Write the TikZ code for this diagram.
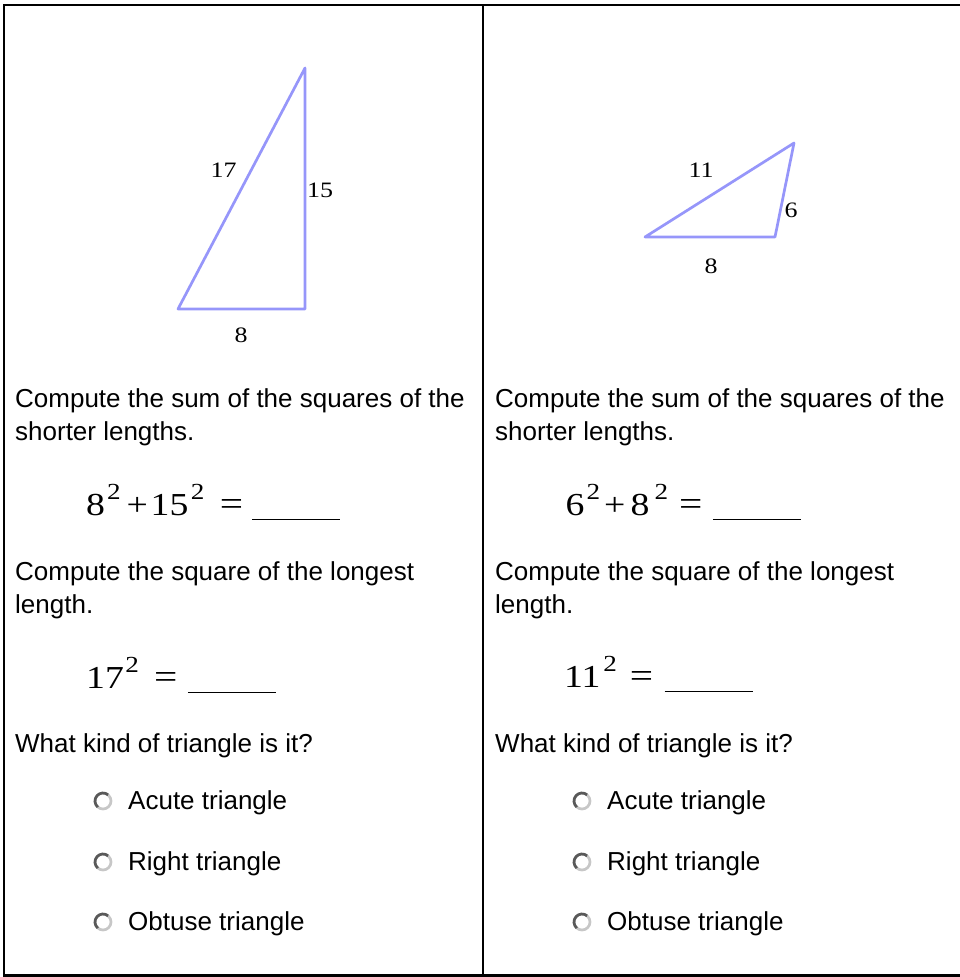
\documentclass[tikz,border=0pt]{standalone}
\usepackage{fontspec}
\setmainfont{Liberation Serif}
\setsansfont{Liberation Sans}
\newfontfamily\eqfont[FakeStretch=1.18]{Liberation Serif}
\definecolor{triblue}{RGB}{150,150,250}
\newcommand{\sqtwo}{\raisebox{16pt}{\fontsize{23}{23}\selectfont 2}}
\newcommand{\eqsign}{{\fontsize{35}{35}\selectfont =}}
\newcommand{\blank}{\rule[-5pt]{88pt}{1.1pt}}

\begin{document}
\begin{tikzpicture}[x=1pt,y=-1pt,
  prompt/.style={anchor=base west,inner sep=0pt,font=\fontsize{26}{30}\sffamily},
  eqn/.style={anchor=base west,inner sep=0pt,font=\eqfont\fontsize{32}{36}\selectfont},
  side/.style={inner sep=0pt,font=\eqfont\fontsize{22}{24}\selectfont},
  tri/.style={draw=triblue,line width=2.7pt,line join=round},
  radio/.style={circle,minimum size=16pt,inner sep=0pt,draw=black!22,line width=2.7pt,fill=white},
  radiodark/.style={draw=black!65,line width=2.7pt}]
  \useasboundingbox (0,0) rectangle (960,977);
  \draw[line width=2.4pt] (960,5) -- (3.7,5) -- (3.7,975.5) -- (960,975.5);
  \draw[line width=2.4pt] (483,5) -- (483,975.5);

  % left column
  \coordinate (la) at (178,309);
  \coordinate (lb) at (305,309);
  \coordinate (lc) at (305,68);
  \draw[tri] (la) -- (lb) -- (lc) -- cycle;
  \node[side] (lhyp) at (223.5,170.5) {17};
  \node[side] (lleg) at (320,190) {15};
  \node[side] (lbase) at (241,335) {8};
  \node[prompt] (lq1) at (15,407) {Compute the sum of the squares of the};
  \node[prompt] (lq2) at (15,440) {shorter lengths.};
  \node[eqn] (leq1) at (86,515) {8\hspace{2pt}\sqtwo\hspace{6pt}+\hspace{2.7pt}15\hspace{2.5pt}\sqtwo\hspace{15.5pt}\eqsign\hspace{9pt}\blank};
  \node[prompt] (lq3) at (15,580) {Compute the square of the longest};
  \node[prompt] (lq4) at (15,613) {length.};
  \node[eqn] (leq2) at (86,688) {17\hspace{1.5pt}\sqtwo\hspace{15pt}\eqsign\hspace{10.5pt}\blank};
  \node[prompt] (lq5) at (15,752) {What kind of triangle is it?};

  % right column
  \coordinate (ra) at (645,237);
  \coordinate (rb) at (775,237);
  \coordinate (rc) at (794,143);
  \draw[tri] (ra) -- (rb) -- (rc) -- cycle;
  \node[side] (rhyp) at (701,170) {11};
  \node[side] (rleg) at (791,210) {6};
  \node[side] (rbase) at (711,266) {8};
  \node[prompt] (rq1) at (495,407) {Compute the sum of the squares of the};
  \node[prompt] (rq2) at (495,440) {shorter lengths.};
  \node[eqn] (req1) at (565.5,515) {6\hspace{2pt}\sqtwo\hspace{4pt}+\hspace{5.2pt}8\hspace{5pt}\sqtwo\hspace{11pt}\eqsign\hspace{10.5pt}\blank};
  \node[prompt] (rq3) at (495,580) {Compute the square of the longest};
  \node[prompt] (rq4) at (495,613) {length.};
  \node[eqn] (req2) at (564,687) {11\hspace{2.7pt}\sqtwo\hspace{13pt}\eqsign\hspace{11.5pt}\blank};
  \node[prompt] (rq5) at (495,752) {What kind of triangle is it?};

  % answer choices
  \foreach \col/\dx in {l/0,r/479} {
    \foreach \k/\yy/\txt in {1/809/Acute triangle,2/870/Right triangle,3/930/Obtuse triangle} {
      \node[radio] (\col ra\k) at (103+\dx,\yy-8) {};
      \draw[radiodark] (\col ra\k.center) ++(130:8) arc[start angle=130,end angle=310,radius=8];
      \node[prompt] (\col rt\k) at (128+\dx,\yy) {\txt};
    }
  }
\end{tikzpicture}
\end{document}
